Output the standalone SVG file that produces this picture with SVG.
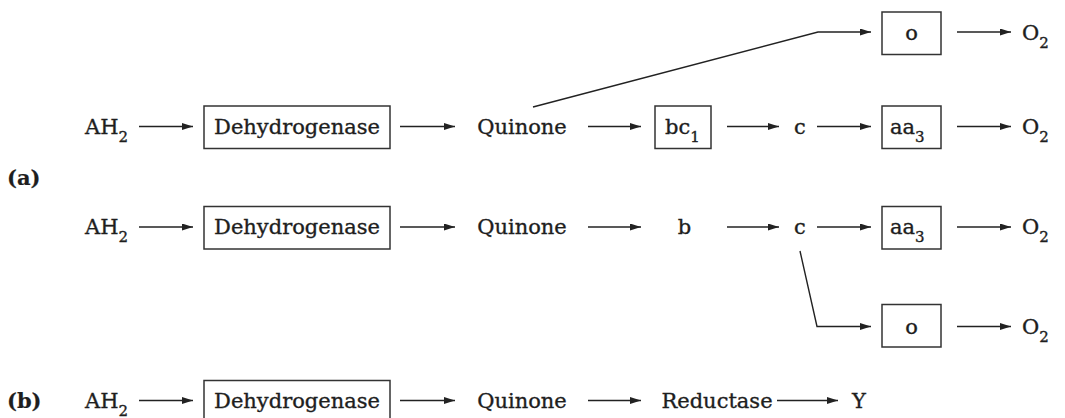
<svg xmlns="http://www.w3.org/2000/svg" width="1065" height="418" viewBox="0 0 1065 418">
<style>
text{font-family:"DejaVu Serif","Liberation Serif",serif;font-size:21px;fill:#1e1e1e;stroke:#1e1e1e;stroke-width:0.35}
.lbl{font-weight:bold;font-size:21px;stroke-width:0.2}
.sub{font-size:15px}
.box{fill:#fff;stroke:#333;stroke-width:1.5}
.ln{fill:none;stroke:#222;stroke-width:1.4;marker-end:url(#ah)}
.mid{text-anchor:middle}
</style>
<defs>
<marker id="ah" markerUnits="userSpaceOnUse" markerWidth="12" markerHeight="8" refX="11" refY="3.5" orient="auto">
<path d="M0,0 L11,3.5 L0,7 z" fill="#222"/>
</marker>
</defs>
<rect width="1065" height="418" fill="#fff"/>
<g id="connectors">
<line class="ln" x1="139" y1="126.5" x2="193" y2="126.5"/>
<line class="ln" x1="400" y1="126.5" x2="455" y2="126.5"/>
<line class="ln" x1="588" y1="126.5" x2="641" y2="126.5"/>
<line class="ln" x1="727" y1="126.5" x2="779" y2="126.5"/>
<line class="ln" x1="817" y1="126.5" x2="871" y2="126.5"/>
<line class="ln" x1="957" y1="126.5" x2="1011" y2="126.5"/>
<polyline class="ln" points="533,107 818,32 871,32"/>
<line class="ln" x1="957" y1="32" x2="1011" y2="32"/>
<line class="ln" x1="139" y1="227" x2="193" y2="227"/>
<line class="ln" x1="400" y1="227" x2="455" y2="227"/>
<line class="ln" x1="588" y1="227" x2="641" y2="227"/>
<line class="ln" x1="727" y1="227" x2="779" y2="227"/>
<line class="ln" x1="817" y1="227" x2="871" y2="227"/>
<line class="ln" x1="957" y1="227" x2="1011" y2="227"/>
<polyline class="ln" points="800,251 817,326.5 871,326.5"/>
<line class="ln" x1="957" y1="326.5" x2="1011" y2="326.5"/>
<line class="ln" x1="139" y1="400.5" x2="193" y2="400.5"/>
<line class="ln" x1="400" y1="400.5" x2="455" y2="400.5"/>
<line class="ln" x1="588" y1="400.5" x2="641" y2="400.5"/>
<line class="ln" x1="777" y1="400.5" x2="838" y2="400.5"/>
</g>
<g id="label-a"><text class="lbl" x="7" y="185">(a)</text></g>
<g id="label-b"><text class="lbl" x="7" y="408">(b)</text></g>
<g id="a1-ah2"><text x="85" y="134">AH<tspan class="sub" dy="7.5">2</tspan></text></g>
<g id="a1-dehydrogenase"><rect class="box" x="204" y="106" width="186" height="42.5"/><text class="mid" x="297" y="134">Dehydrogenase</text></g>
<g id="a1-quinone"><text class="mid" x="522" y="134">Quinone</text></g>
<g id="a1-bc1"><rect class="box" x="655" y="106" width="56" height="42.5"/><text x="665" y="134">bc<tspan class="sub" dy="7.5">1</tspan></text></g>
<g id="a1-c"><text class="mid" x="800" y="134">c</text></g>
<g id="a1-aa3"><rect class="box" x="882" y="106" width="59" height="42.5"/><text x="890" y="134">aa<tspan class="sub" dy="7.5">3</tspan></text></g>
<g id="a1-o2"><text x="1022" y="134">O<tspan class="sub" dy="7.5">2</tspan></text></g>
<g id="a1-o"><rect class="box" x="882" y="12" width="59" height="42.5"/><text class="mid" x="911.5" y="40">o</text></g>
<g id="a1-o-o2"><text x="1022" y="40">O<tspan class="sub" dy="7.5">2</tspan></text></g>
<g id="a2-ah2"><text x="85" y="234">AH<tspan class="sub" dy="7.5">2</tspan></text></g>
<g id="a2-dehydrogenase"><rect class="box" x="204" y="206.5" width="186" height="42.5"/><text class="mid" x="297" y="234">Dehydrogenase</text></g>
<g id="a2-quinone"><text class="mid" x="522" y="234">Quinone</text></g>
<g id="a2-b"><text class="mid" x="684.5" y="234">b</text></g>
<g id="a2-c"><text class="mid" x="800" y="234">c</text></g>
<g id="a2-aa3"><rect class="box" x="882" y="206.5" width="59" height="42.5"/><text x="890" y="234">aa<tspan class="sub" dy="7.5">3</tspan></text></g>
<g id="a2-o2"><text x="1022" y="234">O<tspan class="sub" dy="7.5">2</tspan></text></g>
<g id="a2-o"><rect class="box" x="882" y="304.5" width="59" height="42.5"/><text class="mid" x="911.5" y="334">o</text></g>
<g id="a2-o-o2"><text x="1022" y="334">O<tspan class="sub" dy="7.5">2</tspan></text></g>
<g id="b-ah2"><text x="85" y="408">AH<tspan class="sub" dy="7.5">2</tspan></text></g>
<g id="b-dehydrogenase"><rect class="box" x="204" y="380.5" width="186" height="42.5"/><text class="mid" x="297" y="408">Dehydrogenase</text></g>
<g id="b-quinone"><text class="mid" x="522" y="408">Quinone</text></g>
<g id="b-reductase"><text class="mid" x="717" y="408">Reductase</text></g>
<g id="b-y"><text class="mid" x="859" y="408">Y</text></g>
</svg>
